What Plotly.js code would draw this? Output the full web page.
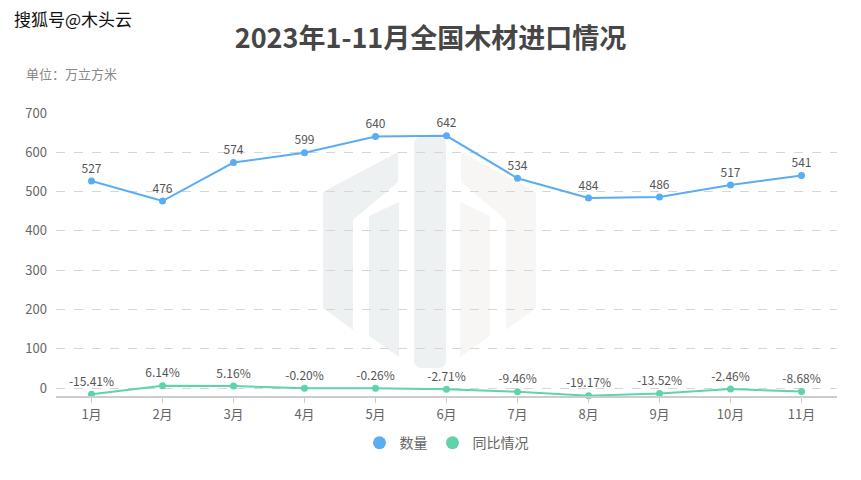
<!DOCTYPE html>
<html><head><meta charset="utf-8">
<script src="https://cdn.plot.ly/plotly-3.0.1.min.js"></script>
<style>body{margin:0;background:#fff}#c{width:861px;height:480px}</style>
</head><body><div id="c"></div>
<script>
const months = ['1月','2月','3月','4月','5月','6月','7月','8月','9月','10月','11月'];
const volume = [527,476,574,599,640,642,534,484,486,517,541];
const yoy = [-15.41,6.14,5.16,-0.20,-0.26,-2.71,-9.46,-19.17,-13.52,-2.46,-8.68];
const yTicks = [0,100,200,300,400,500,600,700];

const F = '"Noto Sans CJK SC", "Microsoft YaHei", sans-serif';
const BLUE = '#5AADF3', GREEN = '#5ED4A8';
const traces = [
  {x: months, y: volume, name: '数量', type: 'scatter', mode: 'lines+markers+text', showlegend: false,
   line: {color: BLUE, width: 2}, marker: {color: BLUE, size: 7},
   text: volume.map(String), textposition: 'top center',
   textfont: {family: F, size: 12, color: '#555'}, cliponaxis: false},
  {x: months, y: yoy, name: '同比情况', type: 'scatter', mode: 'lines+markers+text', showlegend: false,
   line: {color: GREEN, width: 2}, marker: {color: GREEN, size: 7},
   text: yoy.map(v => v.toFixed(2) + '%'), textposition: 'top center',
   textfont: {family: F, size: 12, color: '#555'}, cliponaxis: false},
  {x: [null], y: [null], name: '数量', type: 'scatter', mode: 'markers', marker: {color: BLUE, size: 13}},
  {x: [null], y: [null], name: '同比情况', type: 'scatter', mode: 'markers', marker: {color: GREEN, size: 13}}
];

// faint background logo (decorative), in page pixels
const svg = `<svg xmlns="http://www.w3.org/2000/svg" width="861" height="480" viewBox="0 0 861 480">
<g fill="#eef1f2">
<path d="M323,192 L398,152 L398,182 L353,220 L353,330 L323,308 Z"/>
<path d="M369,216 L399,202 L399,357 L369,336 Z"/>
<rect x="414" y="137" width="32" height="231" rx="7"/>
</g>
<g fill="#f7f6f4">
<path d="M536,192 L461,152 L461,182 L506,220 L506,330 L536,308 Z"/>
<path d="M490,216 L460,202 L460,357 L490,336 Z"/>
</g></svg>`;
const logo = 'data:image/svg+xml;charset=utf-8,' + encodeURIComponent(svg);

const L = 56, R = 837, T = 113, B = 396;
const W = R - L, H = B - T;
const layout = {
  width: 861, height: 480,
  margin: {l: L, r: 861 - R, t: T, b: 480 - B},
  paper_bgcolor: '#fff', plot_bgcolor: 'rgba(0,0,0,0)',
  font: {family: F, color: '#666'},
  title: {text: '<b>2023年1-11月全国木材进口情况</b>', x: 0.5, xanchor: 'center', y: 0.92, yanchor: 'middle',
          font: {family: F, size: 27, color: '#464646'}},
  xaxis: {type: 'category', range: [-0.5, 10.5], showgrid: false, zeroline: false,
          showline: true, linecolor: '#ccc', linewidth: 2,
          ticks: 'outside', ticklen: 5, tickcolor: '#ccc', tickfont: {family: F, size: 13, color: '#666'}},
  yaxis: {range: [-20, 700], tickvals: yTicks, ticktext: yTicks.map(String), showgrid: true,
          gridcolor: '#d6d6d6', griddash: 'dash', zeroline: false, showline: false,
          tickfont: {family: F, size: 13, color: '#666'}, ticklabelstandoff: 8},
  showlegend: true,
  legend: {orientation: 'h', x: 0.5, xanchor: 'center', y: -0.11, yanchor: 'top',
           font: {family: F, size: 14, color: '#666'}},
  images: [{source: logo, xref: 'paper', yref: 'paper', x: -L / W, y: 1 + T / H,
            sizex: 861 / W, sizey: 480 / H, xanchor: 'left', yanchor: 'top', sizing: 'stretch', layer: 'below'}],
  annotations: [
    {text: '搜狐号@木头云', xref: 'paper', yref: 'paper', x: -44 / W, y: 1 + (T - 18) / H, xanchor: 'left', yanchor: 'middle',
     showarrow: false, font: {family: F, size: 17, color: '#111'}},
    {text: '单位：万立方米', xref: 'paper', yref: 'paper', x: -32 / W, y: 1 + (T - 74) / H, xanchor: 'left', yanchor: 'middle',
     showarrow: false, font: {family: F, size: 13, color: '#888'}}
  ]
};
Plotly.newPlot('c', traces, layout, {displayModeBar: false});
</script></body></html>
